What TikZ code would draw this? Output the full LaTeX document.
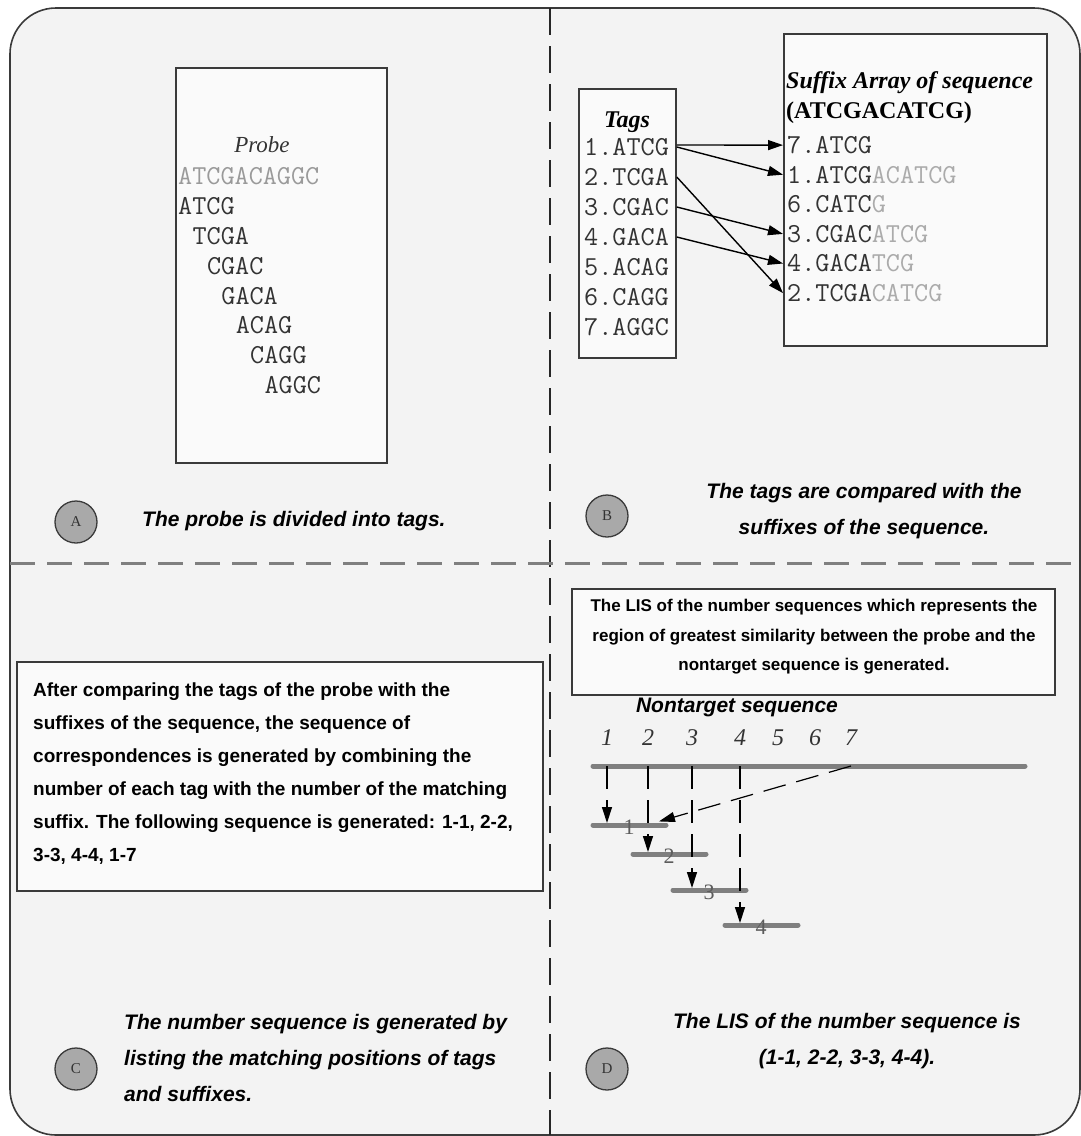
\documentclass[tikz,border=0pt]{standalone}
\usepackage{fontspec}
\setmainfont{Liberation Serif}
\setsansfont{Liberation Sans}
\usetikzlibrary{arrows.meta}
\definecolor{paper}{HTML}{F3F3F3}
\definecolor{ink}{HTML}{333333}
\definecolor{faint}{HTML}{ABABAB}
\definecolor{rule}{HTML}{7F7F7F}
\definecolor{edge}{HTML}{3A3A3A}
\definecolor{disc}{HTML}{A9A9A9}
\tikzset{
  frame/.style={draw=edge, line width=1.6pt, fill=paper, rounded corners=46pt},
  sep/.style={draw=rule, line width=3pt, dash pattern=on 25pt off 12pt},
  vsep/.style={draw=black!85, line width=1.4pt, dash pattern=on 27pt off 11pt},
  box/.style={draw=edge, line width=1.8pt, fill=white!60!paper, inner sep=0pt},
  seq/.style={font=\fontsize{27.4}{30}\selectfont\ttfamily, text=ink, inner sep=0pt, anchor=west},
  capt/.style={font=\fontsize{21}{36}\selectfont\sffamily\bfseries\itshape, align=center, inner sep=0pt},
  note/.style={font=\fontsize{19}{33}\selectfont\sffamily\bfseries, inner sep=0pt},
  badge/.style={circle, draw=edge, line width=1.3pt, fill=disc, minimum size=42pt, inner sep=0pt, font=\fontsize{15}{15}\selectfont, text=ink},
  arr/.style={draw=black, line width=1.4pt, -{Triangle[length=15pt,width=10pt]}},
  darr/.style={draw=black, line width=1.2pt, dash pattern=on 23pt off 11pt, shorten >=2pt, -{Triangle[length=16pt,width=10pt]}},
  bar/.style={draw=rule, line width=5pt, line cap=round},
  idx/.style={font=\fontsize{24}{24}\selectfont\itshape, text=ink, inner sep=0pt},
  barnum/.style={font=\fontsize{22}{22}\selectfont, text=ink!80, inner sep=0pt},
}

\begin{document}
\begin{tikzpicture}[x=1pt,y=-1pt]
  \useasboundingbox (0,0) rectangle (1081,1136);
  \fill[white] (0,0) rectangle (1081,1136);
  \draw[frame] (10,8) rectangle (1080,1135);
  \draw[vsep] (550,8) -- (550,1135);
  \draw[sep] (10,563) -- (1080,563);

  \node[box, anchor=north west, minimum width=211pt, minimum height=395pt] (probebox) at (175,67) {};
  \node[font=\fontsize{23}{23}\selectfont\itshape, text=ink, inner sep=0pt] (probe) at (262,145) {Probe};
  \node[seq, text=faint!90!black] (full) at (178,176) {ATCGACAGGC};
  \foreach \t [count=\i] in {ATCG,TCGA,CGAC,GACA,ACAG,CAGG,AGGC}
    \node[seq] (pt\i) at ({178+14.4*(\i-1)},{176+29.9*\i}) {\t};
  \node[badge] (ca) at (76,522) {A};
  \node[capt, anchor=west] (capa) at (142,521) {The probe is divided into tags.};

  \node[box, anchor=north west, minimum width=97pt, minimum height=269pt] (tagbox) at (578,88) {};
  \node[font=\fontsize{24}{24}\selectfont\bfseries\itshape, inner sep=0pt] (tagt) at (627,122) {Tags};
  \foreach \t [count=\i] in {ATCG,TCGA,CGAC,GACA,ACAG,CAGG,AGGC}
    \node[seq] (t\i) at (584,{117+30*\i}) {\i.\t};
  \node[box, anchor=north west, minimum width=263pt, minimum height=312pt] (sabox) at (783,33) {};
  \node[font=\fontsize{24}{24}\selectfont\bfseries\itshape, inner sep=0pt, anchor=west] (sat) at (786,83) {Suffix Array of sequence};
  \node[font=\fontsize{24}{24}\selectfont\bfseries, inner sep=0pt, anchor=west] (sas) at (786,113) {(ATCGACATCG)};
  \foreach \n/\a/\b [count=\i] in {7/ATCG/{},1/ATCG/ACATCG,6/CATC/G,3/CGAC/ATCG,4/GACA/TCG,2/TCGA/CATCG}
    \node[seq] (s\n) at (787,{115.5+29.6*\i}) {\n.\a\textcolor{faint}{\b}};
  \draw[arr] ([yshift=2pt]tagbox.east |- t1) -- (sabox.west |- s7);
  \foreach \a/\b in {1/1,2/2,3/3,4/4}
    \draw[arr] (tagbox.east |- t\a) -- (sabox.west |- s\b);
  \node[badge] (cb) at (607,516) {B};
  \node[capt] (capb) at (864,511) {The tags are compared with the\\suffixes of the sequence.};

  \node[box, anchor=north west, minimum width=526pt, minimum height=229pt] (cbox) at (16,661) {};
  \node[note, align=left, anchor=west] (ctext) at (33,774) {After comparing the tags of the probe with the\\suffixes of the sequence, the sequence of\\correspondences is generated by combining the\\number of each tag with the number of the matching\\suffix. The following sequence is generated: 1-1, 2-2,\\3-3, 4-4, 1-7};
  \node[badge] (cc) at (76,1069) {C};
  \node[capt, align=left, anchor=west] (capc) at (124,1058) {The number sequence is generated by\\listing the matching positions of tags\\and suffixes.};

  \node[box, anchor=north west, minimum width=483pt, minimum height=106pt] (dbox) at (571,588) {};
  \node[font=\fontsize{17}{29.5}\selectfont\sffamily\bfseries, inner sep=0pt, align=center] (dtext) at (814,637) {The LIS of the number sequences which represents the\\region of greatest similarity between the probe and the\\nontarget sequence is generated.};
  \node[capt] (nontarget) at (737,707) {Nontarget sequence};
  \coordinate (seqL) at (593,766);
  \coordinate (seqR) at (1025,766);
  \draw[bar] (seqL) -- (seqR);
  \foreach \x [count=\i] in {607,648,692,740,778,815,851} {
    \node[idx] (n\i) at (\x,738) {\i};
    \coordinate (top\i) at (\x,766);
  }
  \foreach \a/\y [count=\i] in {593/825,633/854,673/890,725/925} {
    \coordinate (bl\i) at (\a,\y);
    \coordinate (br\i) at (\a+73,\y);
    \draw[bar] (bl\i) -- (br\i);
    \node[barnum] (m\i) at (\a+36,\y+2) {\i};
  }
  \foreach \i in {1,...,4}
    \draw[darr] (top\i) -- (top\i |- bl\i);
  \coordinate (hit) at (657,822);
  \draw[darr] (top7) -- (hit);
  \node[badge] (cd) at (607,1069) {D};
  \node[capt] (capd) at (847,1041) {The LIS of the number sequence is\\(1-1, 2-2, 3-3, 4-4).};
\end{tikzpicture}
\end{document}
